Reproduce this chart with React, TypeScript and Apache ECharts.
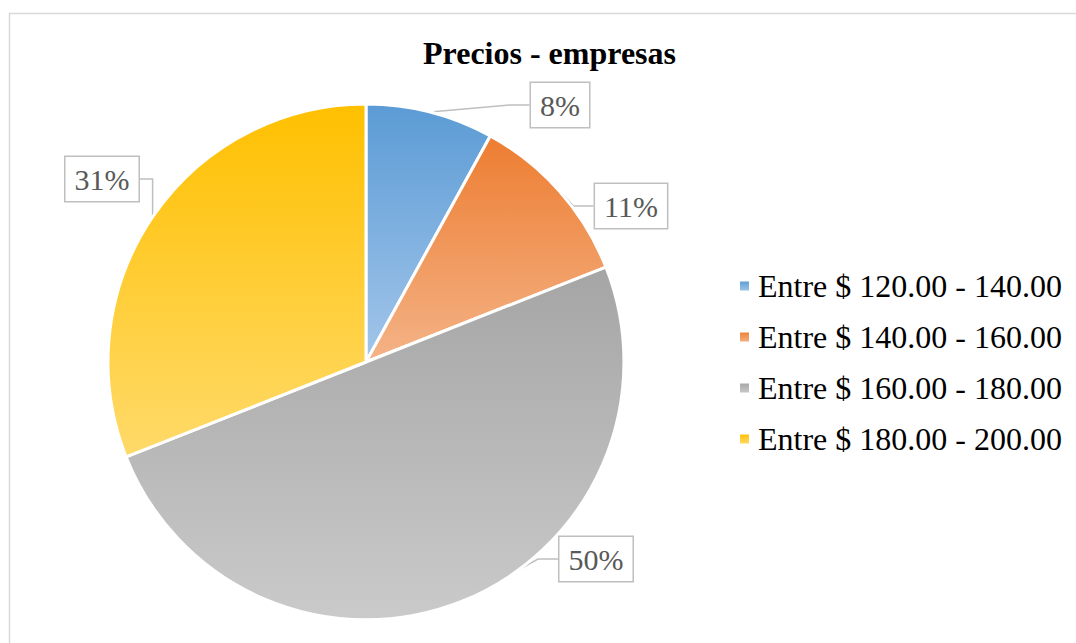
import React, { useEffect, useRef } from "react";
import * as echarts from "echarts";

const categories = [
  "Entre $ 120.00 - 140.00",
  "Entre $ 140.00 - 160.00",
  "Entre $ 160.00 - 180.00",
  "Entre $ 180.00 - 200.00",
];
const values = [8, 11, 50, 31];
const topColors = ["#5b9bd5", "#ed7d31", "#a5a5a5", "#ffc000"];
const bottomColors = ["#a3c6ea", "#f4b387", "#cacaca", "#ffda6a"];
const labelCenters = [
  [560, 105],
  [631, 206],
  [596, 559],
  [102, 179],
];

export default function App() {
  const ref = useRef<HTMLDivElement>(null);
  useEffect(() => {
    if (!ref.current) return;
    const chart = echarts.init(ref.current, undefined, { renderer: "svg" });
    const font = "'Liberation Serif', 'Times New Roman', serif";
    chart.setOption({
      animation: false,
      backgroundColor: "#ffffff",
      title: {
        text: "Precios - empresas",
        left: 549.5,
        top: 37,
        padding: 0,
        textAlign: "center",
        textStyle: {
          fontFamily: font,
          fontSize: 32,
          fontWeight: "bold",
          color: "#000000",
          lineHeight: 32,
        },
      },
      graphic: [
        {
          type: "rect",
          shape: { x: 9.5, y: 13.5, width: 1200, height: 800 },
          style: { fill: "none", stroke: "#d9d9d9", lineWidth: 1.5 },
          silent: true,
          z: -1,
        },
      ],
      legend: {
        orient: "vertical",
        left: 738,
        top: 270,
        padding: 0,
        itemWidth: 11,
        itemHeight: 11,
        itemGap: 19,
        icon: "rect",
        textStyle: {
          fontFamily: font,
          fontSize: 32,
          color: "#000000",
          lineHeight: 32,
          padding: [0, 0, 0, 3],
        },
        data: categories,
      },
      series: [
        {
          type: "pie",
          center: [366, 362],
          radius: [0, 258],
          startAngle: 90,
          clockwise: true,
          itemStyle: { borderColor: "#ffffff", borderWidth: 3 },
          label: {
            show: true,
            position: "outside",
            formatter: (p: any) => p.value + "%",
            fontFamily: font,
            fontSize: 30,
            color: "#595959",
            backgroundColor: "#ffffff",
            borderColor: "#bfbfbf",
            borderWidth: 1.5,
            padding: [7, 9, 5, 9],
            lineHeight: 32,
          },
          labelLine: {
            show: true,
            length: 20,
            length2: 20,
            lineStyle: { color: "#bfbfbf", width: 1.5 },
          },
          labelLayout: (params: any) => {
            const c = labelCenters[params.dataIndex];
            return {
              x: c[0],
              y: c[1],
              align: "center",
              verticalAlign: "middle",
            };
          },
          data: categories.map((name, i) => ({
            name,
            value: values[i],
            itemStyle: {
              color: new echarts.graphic.LinearGradient(0, 0, 0, 1, [
                { offset: 0, color: topColors[i] },
                { offset: 1, color: bottomColors[i] },
              ]),
            },
          })),
        },
      ],
    });
    return () => chart.dispose();
  }, []);
  return (
    <div
      ref={ref}
      style={{ position: "absolute", left: 0, top: 0, width: 1076, height: 643 }}
    />
  );
}
